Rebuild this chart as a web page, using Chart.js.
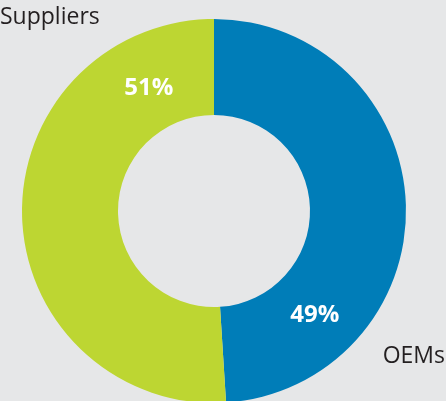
<!DOCTYPE html>
<html>
<head>
<meta charset="utf-8">
<script src="https://cdn.jsdelivr.net/npm/chart.js@4"></script>
<style>
  html, body { margin: 0; padding: 0; background: #e6e7e8; overflow: hidden; }
  #wrap { position: absolute; left: 0; top: 0; width: 446px; height: 430px; }
</style>
</head>
<body>
<div id="wrap"><canvas id="grafico"></canvas></div>
<script>
// dados do grafico
const categorias = ['OEMs', 'Suppliers'];
const percentuais = [49, 51];
const cores = ['#007db8', '#bdd632'];

// onde escrever cada rotulo (angulo em graus a partir do topo, horario, e ajuste do raio)
const angulosPct = [136, 332];
const ajusteRaio = [1, -5];

const rotulosPlugin = {
    id: 'rotulos',
    afterDatasetsDraw(chart) {
        const ctx = chart.ctx;
        const meta = chart.getDatasetMeta(0);
        ctx.save();
        ctx.textAlign = 'center';
        ctx.textBaseline = 'middle';
        ctx.fillStyle = '#ffffff';
        ctx.font = 'bold 24px "Open Sans", sans-serif';
        meta.data.forEach((arco, i) => {
            const r = (arco.innerRadius + arco.outerRadius) / 2 + ajusteRaio[i];
            const a = angulosPct[i] * Math.PI / 180;
            const x = arco.x + Math.sin(a) * r;
            const y = arco.y - Math.cos(a) * r;
            ctx.fillText(percentuais[i] + '%', x, y);
        });

        ctx.fillStyle = '#231f20';
        ctx.font = '23px "Open Sans", sans-serif';
        ctx.textBaseline = 'alphabetic';
        ctx.textAlign = 'left';
        ctx.fillText(categorias[1], 0, 24);
        ctx.textAlign = 'right';
        ctx.fillText(categorias[0], 445, 363);
        ctx.restore();
    }
};

new Chart(document.getElementById('grafico'), {
    type: 'doughnut',
    data: {
        labels: categorias,
        datasets: [{
            data: percentuais,
            backgroundColor: cores,
            borderWidth: 0,
        }],
    },
    options: {
        responsive: true,
        maintainAspectRatio: false,
        animation: false,
        cutout: '50%',
        layout: { padding: { left: 22, right: 40, top: 19, bottom: 27 } },
        plugins: {
            legend: { display: false },
            tooltip: { enabled: false },
        },
    },
    plugins: [rotulosPlugin],
});
</script>
</body>
</html>
